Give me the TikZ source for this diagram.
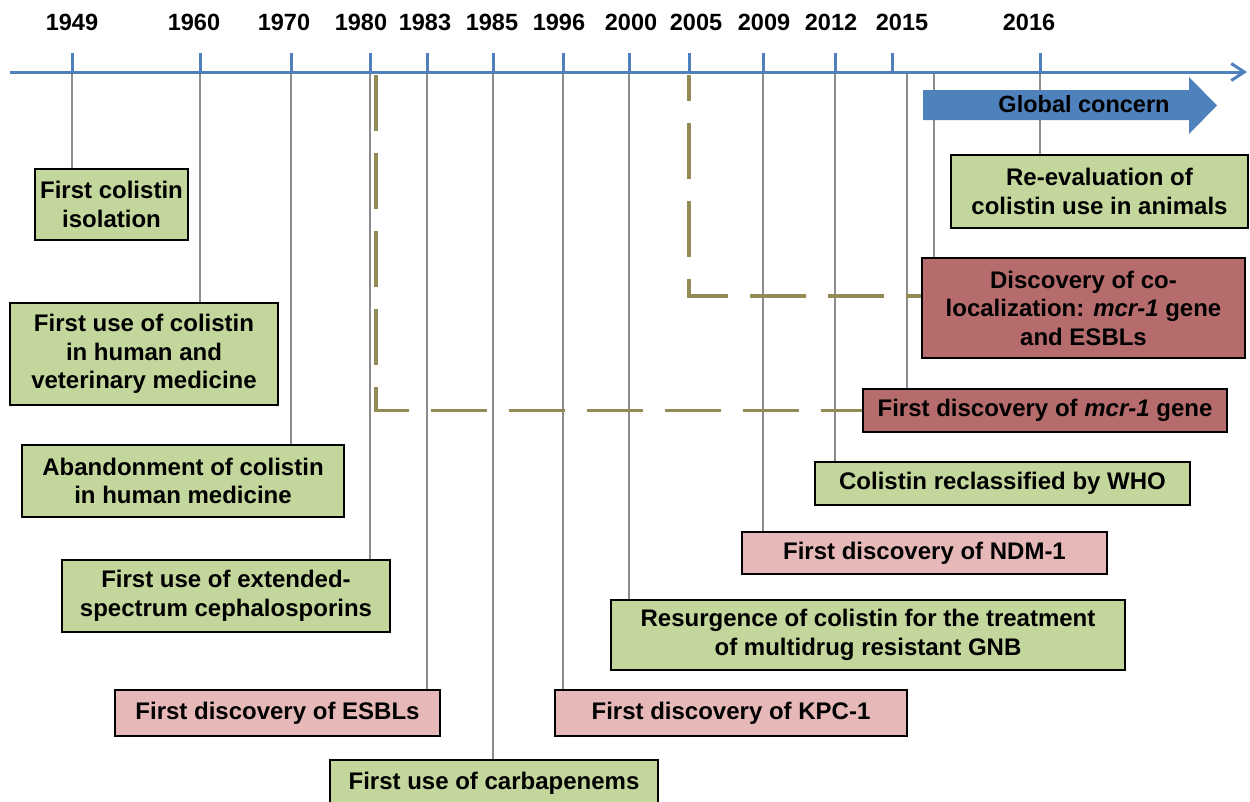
\documentclass[tikz,border=0pt]{standalone}
\usepackage{fontspec}
\setmainfont{Liberation Sans}
\usetikzlibrary{arrows.meta}

\definecolor{boxgreen}{HTML}{C3D69B}
\definecolor{boxpink}{HTML}{E6B9B8}
\definecolor{boxred}{HTML}{B66C6C}
\definecolor{axisblue}{HTML}{4F81BD}
\definecolor{lagolive}{HTML}{948A54}
\definecolor{linkgray}{HTML}{8C8C8C}

\tikzset{
  every picture/.style={line width=0.75pt},
  evt/.style={draw=black, line width=2.2pt, align=center, inner sep=0pt,
    font=\fontsize{24}{28.5}\selectfont\bfseries},
  grn/.style={evt, fill=boxgreen},
  pnk/.style={evt, fill=boxpink},
  dkr/.style={evt, fill=boxred},
  link/.style={draw=linkgray, line width=1.5pt},
  lag/.style={draw=lagolive, line width=3.5pt, dash pattern=on 56pt off 22pt},
  axisline/.style={draw=axisblue, line width=3pt},
  yrlabel/.style={font=\fontsize{23.5}{28}\selectfont\bfseries},
}

\begin{document}
\begin{tikzpicture}[x=1pt,y=1pt,yscale=-1]

\useasboundingbox (0,0) rectangle (1250,801);
\clip (0,0) rectangle (1250,801);

% events
\node [grn, minimum width=153, minimum height=71]  (iso)    at (111.5,204.5) {First colistin\\isolation};
\node [grn, minimum width=268, minimum height=102] (use)    at (144,354)     {First use of colistin\\in human and\\veterinary medicine};
\node [grn, minimum width=322, minimum height=72]  (aband)  at (183,481)     {Abandonment of colistin\\in human medicine};
\node [grn, minimum width=328, minimum height=72]  (ceph)   at (226,596)     {First use of extended-\\spectrum cephalosporins};
\node [pnk, minimum width=325, minimum height=46]  (esbl)   at (277.5,713)   {First discovery of ESBLs};
\node [grn, minimum width=328, minimum height=46]  (carba)  at (494,783)     {First use of carbapenems};
\node [pnk, minimum width=352, minimum height=46]  (kpc)    at (731,713)     {First discovery of KPC-1};
\node [grn, minimum width=514, minimum height=70]  (resurg) at (868,635)     {Resurgence of colistin for the treatment\\of multidrug resistant GNB};
\node [pnk, minimum width=365, minimum height=42]  (ndm)    at (924.5,553)   {First discovery of NDM-1};
\node [grn, minimum width=375, minimum height=43]  (who)    at (1002.5,483.5) {Colistin reclassified by WHO};
\node [dkr, minimum width=364, minimum height=43]  (mcr)    at (1045,410.5)  {First discovery of \textit{mcr-1} gene};
\node [dkr, minimum width=323, minimum height=100] (coloc)  at (1083.5,308)  {Discovery of co-\\localization: \textit{mcr-1} gene\\and ESBLs};
\node [grn, minimum width=297, minimum height=73]  (reeval) at (1099.5,191.5) {Re-evaluation of\\colistin use in animals};

% years
\foreach \yr/\tx/\lx in {1949/72/72, 1960/200/194, 1970/291/284, 1980/370/361,
    1983/427/425, 1985/493/492, 1996/563/559, 2000/629/631, 2005/689/696,
    2009/763/764, 2012/835/831, 2015/892/902, 2016/1040/1029} {
  \coordinate (t\yr) at (\tx,72);
  \draw [axisline] (t\yr) -- ++(0,-19);
  \node [yrlabel] (y\yr) at (\lx,22) {\yr};
}
\coordinate (mcrfoot)   at (907,72);
\coordinate (colocfoot) at (934,72);

% links
\draw [link] (t1949) -- (t1949 |- iso.north);
\draw [link] (t1960) -- (t1960 |- use.north);
\draw [link] (t1970) -- (t1970 |- aband.north);
\draw [link] (t1980) -- (t1980 |- ceph.north);
\draw [link] (t1983) -- (t1983 |- esbl.north);
\draw [link] (t1985) -- (t1985 |- carba.north);
\draw [link] (t1996) -- (t1996 |- kpc.north);
\draw [link] (t2000) -- (t2000 |- resurg.north);
\draw [link] (t2009) -- (t2009 |- ndm.north);
\draw [link] (t2012) -- (t2012 |- who.north);
\draw [link] (mcrfoot) -- (mcrfoot |- mcr.north);
\draw [link] (colocfoot) -- (colocfoot |- coloc.north);
\draw [link] (t2016) -- (t2016 |- reeval.north);

% dashed spans
\coordinate (lag1980) at (376,75);
\coordinate (lag2005) at (689,75);
\draw [lag] (lag1980) |- (mcr.west);
\draw [lag, dash phase=30pt] (lag2005) |- ([yshift=-12pt]coloc.west);

% axis
\draw [axisline, -{Straight Barb[length=13pt,width=17pt]}] (10,72) -- (1247,72);

% global concern
\fill [axisblue] (923,90) -- (1189,90) -- (1189,77) -- (1217,105.5) -- (1189,134) -- (1189,120) -- (923,120) -- cycle;
\node [yrlabel] (concern) at (1084,104) {Global concern};

\end{tikzpicture}
\end{document}
